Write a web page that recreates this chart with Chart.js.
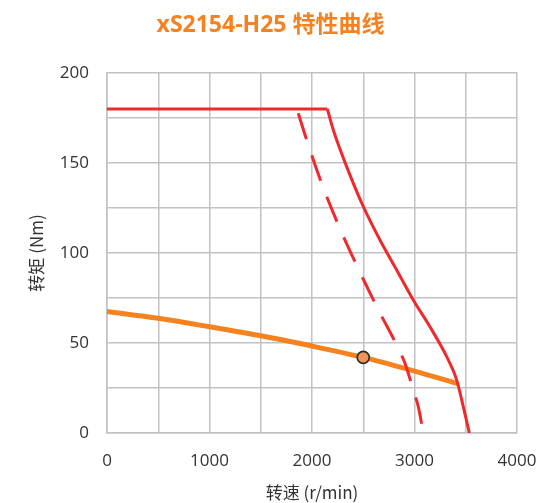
<!DOCTYPE html>
<html>
<head>
<meta charset="utf-8">
<script src="https://cdn.jsdelivr.net/npm/chart.js@4/dist/chart.umd.min.js"></script>
<style>
  html, body { margin: 0; padding: 0; background: #fff; }
  canvas { display: block; }
</style>
</head>
<body>
<canvas id="c" width="541" height="503"></canvas>
<script>
// Data (speed r/min, torque Nm)
const flatSpeed   = [0, 2150];
const flatTorque  = [180, 180];
const peakSpeed   = [2150, 2208, 2338, 2501, 2663, 2826, 2988, 3151, 3314, 3412, 3476, 3535];
const peakTorque  = [180, 168.3, 148, 125.7, 107.2, 90.6, 73.9, 59, 42.4, 29.4, 14.6, 0];
const dashSpeed   = [1866, 1948, 2094, 2257, 2442, 2631, 2842, 2907, 2988, 3037, 3086];
const dashTorque  = [177.6, 162.8, 138.7, 115.6, 92.4, 70.2, 47, 38.7, 23.9, 14.6, 0];
const contSpeed   = [0, 500, 1000, 1500, 2000, 2500, 3000, 3420];
const contTorque  = [67.5, 63.7, 59, 54, 48.3, 42, 34.4, 27.5];
const ratedSpeed  = [2500];
const ratedTorque = [42];
const xTicks = [0, 1000, 2000, 3000, 4000];
const yTicks = [0, 50, 100, 150, 200];

const pts = (xs, ys) => xs.map((x, i) => ({ x: x, y: ys[i] }));

const RED = '#EE2A2C';
const ORANGE = '#F5821F';
const GRID = '#C2C2C6';

new Chart(document.getElementById('c'), {
  type: 'scatter',
  data: {
    datasets: [
      {
        data: pts(contSpeed, contTorque),
        showLine: true, borderColor: ORANGE, borderWidth: 5,
        pointRadius: 0, cubicInterpolationMode: 'monotone', borderCapStyle: 'butt', order: 3
      },
      {
        data: pts(dashSpeed, dashTorque),
        showLine: true, borderColor: RED, borderWidth: 3, borderDash: [27, 17],
        pointRadius: 0, cubicInterpolationMode: 'monotone', order: 2
      },
      {
        data: pts(flatSpeed, flatTorque),
        showLine: true, borderColor: RED, borderWidth: 3,
        pointRadius: 0, tension: 0, order: 1
      },
      {
        data: pts(peakSpeed, peakTorque),
        showLine: true, borderColor: RED, borderWidth: 3,
        pointRadius: 0, cubicInterpolationMode: 'monotone', order: 1
      },
      {
        data: pts(ratedSpeed, ratedTorque),
        showLine: false, pointRadius: 6, pointBackgroundColor: '#F0955A',
        pointBorderColor: '#2b2b2b', pointBorderWidth: 1.6, order: 0
      }
    ]
  },
  options: {
    responsive: false,
    animation: false,
    layout: { padding: { left: 0, right: 0, top: 0, bottom: 0 } },
    plugins: {
      legend: { display: false },
      tooltip: { enabled: false },
      title: {
        display: true,
        text: 'xS2154-H25 特性曲线',
        color: ORANGE,
        font: { family: '"Open Sans", "Noto Sans CJK SC", sans-serif', size: 23, weight: 'bold' },
        padding: { top: 11.2, bottom: 34.2 }
      }
    },
    scales: {
      x: {
        type: 'linear', min: 0, max: 4000,
        afterFit: s => { s.height = 70; s.paddingLeft = 0; s.paddingRight = 24; },
        grid: { color: GRID, lineWidth: 1.5, drawTicks: false },
        border: { color: GRID, width: 1.5 },
        ticks: {
          stepSize: 500, padding: 18, color: '#333',
          font: { family: '"Open Sans", sans-serif', size: 17 },
          maxRotation: 0, autoSkip: false,
          callback: v => xTicks.includes(v) ? String(v) : ''
        },
        title: {
          display: true, text: '转速 (r/min)', color: '#333',
          font: { family: '"Noto Sans CJK SC", sans-serif', size: 17 },
          padding: { top: 0, bottom: 0 }
        }
      },
      y: {
        type: 'linear', min: 0, max: 200,
        afterFit: s => { s.width = 107; },
        grid: { color: GRID, lineWidth: 1.5, drawTicks: false },
        border: { color: GRID, width: 1.5 },
        ticks: {
          stepSize: 25, padding: 18, color: '#333',
          font: { family: '"Open Sans", sans-serif', size: 17 },
          autoSkip: false,
          callback: v => yTicks.includes(v) ? String(v) : ''
        },
        title: {
          display: true, text: '转矩 (Nm)', color: '#333',
          font: { family: '"Noto Sans CJK SC", sans-serif', size: 17 },
          padding: { top: 26, bottom: 0 }
        }
      }
    }
  }
});
</script>
</body>
</html>
